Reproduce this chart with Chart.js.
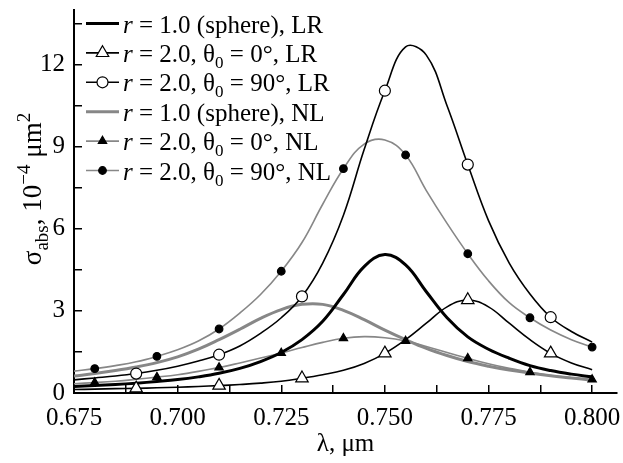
<!DOCTYPE html>
<html>
<head>
<meta charset="utf-8">
<script src="https://cdn.jsdelivr.net/npm/chart.js@4.4.1/dist/chart.umd.min.js"></script>
<style>
    html, body { margin: 0; padding: 0; background: #fff; }
    #wrap { width: 623px; height: 463px; position: relative; }
</style>
</head>
<body>
<div id="wrap"><canvas id="sigma_abs"></canvas></div>
<script>
// wavelength grid, um
const lambda = [0.675, 0.680, 0.685, 0.690, 0.695, 0.700, 0.705, 0.710, 0.715, 0.720,
                0.725, 0.730, 0.735, 0.740, 0.745, 0.750, 0.755, 0.760, 0.765, 0.770,
                0.775, 0.780, 0.785, 0.790, 0.795, 0.800];

// sigma_abs, 1e-4 um^2
const sphereLR = [0.24, 0.27, 0.31, 0.36, 0.42, 0.49, 0.59, 0.72, 0.90, 1.15,
                  1.48, 1.95, 2.62, 3.60, 4.62, 5.06, 4.68, 3.70, 2.75, 2.05,
                  1.60, 1.27, 1.00, 0.82, 0.69, 0.59];
const theta0LR = [0.13, 0.14, 0.16, 0.17, 0.19, 0.21, 0.24, 0.27, 0.31, 0.36,
                  0.43, 0.54, 0.67, 0.83, 1.08, 1.45, 1.95, 2.55, 3.15, 3.40,
                  3.15, 2.55, 1.95, 1.45, 1.10, 0.85];
const theta90LR = [0.48, 0.55, 0.62, 0.71, 0.83, 0.98, 1.17, 1.40, 1.72, 2.18,
                   2.75, 3.53, 4.75, 6.50, 8.90, 11.05, 12.65, 12.35, 10.50, 8.35,
                   6.30, 4.75, 3.62, 2.77, 2.25, 1.86];
const sphereNL = [0.62, 0.71, 0.82, 0.95, 1.11, 1.32, 1.60, 1.95, 2.33, 2.73,
                  3.05, 3.24, 3.24, 3.02, 2.68, 2.30, 1.95, 1.63, 1.37, 1.15,
                  0.98, 0.84, 0.73, 0.63, 0.55, 0.47];
const theta0NL = [0.34, 0.38, 0.43, 0.50, 0.58, 0.67, 0.79, 0.93, 1.10, 1.28,
                  1.46, 1.66, 1.85, 2.00, 2.06, 2.02, 1.90, 1.70, 1.48, 1.27,
                  1.07, 0.90, 0.76, 0.64, 0.56, 0.49];
const theta90NL = [0.80, 0.89, 1.00, 1.14, 1.34, 1.58, 1.90, 2.34, 2.92, 3.60,
                   4.45, 5.50, 6.90, 8.20, 9.10, 9.25, 8.70, 7.40, 6.20, 5.09,
                   4.10, 3.30, 2.75, 2.30, 1.95, 1.68];

// where symbols sit on the curves
const markLR = [0.690, 0.710, 0.730, 0.750, 0.770, 0.790];
const markNL = [0.680, 0.695, 0.710, 0.725, 0.740, 0.755, 0.770, 0.785, 0.800];

const xTicks = [0.675, 0.6875, 0.700, 0.7125, 0.725, 0.7375, 0.750, 0.7625, 0.775, 0.7875, 0.800];
const xLabels = [0.675, 0.700, 0.725, 0.750, 0.775, 0.800];
const yTicks = [0, 1.5, 3, 4.5, 6, 7.5, 9, 10.5, 12, 13.5];
const yLabels = [0, 3, 6, 9, 12];

const legendText = [
    { r: '1.0', theta: null, tag: 'LR' },
    { r: '2.0', theta: '0°', tag: 'LR' },
    { r: '2.0', theta: '90°', tag: 'LR' },
    { r: '1.0', theta: null, tag: 'NL' },
    { r: '2.0', theta: '0°', tag: 'NL' },
    { r: '2.0', theta: '90°', tag: 'NL' },
];

const GRAY = '#878787';
const SERIF = '"Liberation Serif", "Times New Roman", serif';

const near = (a, list) => list.some(v => Math.abs(v - a) < 1e-6);

function makeSet(values, marks, color, width, style, radius, fill) {
    return {
        data: lambda.map((x, i) => ({ x: x, y: values[i] })),
        borderColor: color,
        borderWidth: width,
        tension: 0.4,
        fill: false,
        pointStyle: style,
        pointRadius: ctx => (marks && near(lambda[ctx.dataIndex], marks)) ? radius : 0,
        pointHoverRadius: 0,
        pointBackgroundColor: fill,
        pointBorderColor: '#000',
        pointBorderWidth: 1.2,
        _marks: marks, _radius: radius,
    };
}

const datasets = [
    makeSet(theta90LR, markLR, '#000', 1.6, 'circle', 5.5, '#fff'),
    makeSet(theta0LR, markLR, '#000', 1.6, 'triangle', 7.2, '#fff'),
    makeSet(sphereLR, null, '#000', 3, 'circle', 0, '#000'),
    makeSet(theta90NL, markNL, GRAY, 1.6, 'circle', 3.8, '#000'),
    makeSet(theta0NL, markNL, GRAY, 1.6, 'triangle', 4.8, '#000'),
    makeSet(sphereNL, null, GRAY, 3, 'circle', 0, '#000'),
];
// legend order: LR sphere, LR 0, LR 90, NL sphere, NL 0, NL 90
const legendOrder = [2, 1, 0, 5, 4, 3];

function drawParts(ctx, parts, x, y) {
    parts.forEach(p => {
        ctx.font = p.font;
        ctx.fillText(p.t, x, y + (p.dy || 0));
        x += ctx.measureText(p.t).width;
    });
    return x;
}

function measureParts(ctx, parts) {
    let w = 0;
    parts.forEach(p => { ctx.font = p.font; w += ctx.measureText(p.t).width; });
    return w;
}

const textPlugin = {
    id: 'textPlugin',
    afterDraw(chart) {
        const ctx = chart.ctx;
        const big = '25px ' + SERIF, ital = 'italic 25px ' + SERIF, small = '17px ' + SERIF;
        ctx.save();
        ctx.fillStyle = '#000';
        ctx.textBaseline = 'alphabetic';
        ctx.textAlign = 'left';

        // legend
        legendText.forEach((item, k) => {
            const ds = chart.data.datasets[legendOrder[k]];
            const y = 23.5 + k * 29.4;
            ctx.strokeStyle = ds.borderColor;
            ctx.lineWidth = ds.borderWidth;
            ctx.beginPath();
            ctx.moveTo(86, y);
            ctx.lineTo(119, y);
            ctx.stroke();
            if (ds._marks) {
                ctx.fillStyle = ds.pointBackgroundColor;
                ctx.strokeStyle = '#000';
                ctx.lineWidth = 1.2;
                Chart.helpers.drawPoint(ctx, { pointStyle: ds.pointStyle, radius: ds._radius, borderWidth: 1.2, rotation: 0 }, 102.5, y);
                ctx.fillStyle = '#000';
            }
            let parts = [{ t: 'r', font: ital }];
            if (item.theta) {
                parts.push({ t: ' = ' + item.r + ', θ', font: big });
                parts.push({ t: '0', font: small, dy: 6 });
                parts.push({ t: ' = ' + item.theta + ', ' + item.tag, font: big });
            } else {
                parts.push({ t: ' = ' + item.r + ' (sphere), ' + item.tag, font: big });
            }
            drawParts(ctx, parts, 123, y + 9);
        });

        // y axis title
        const tbig = '27px ' + SERIF, tsmall = '19px ' + SERIF;
        const tparts = [
            { t: 'σ', font: tbig },
            { t: 'abs', font: tsmall, dy: 7 },
            { t: ', 10', font: tbig },
            { t: '−4', font: tsmall, dy: -11 },
            { t: ' μm', font: tbig },
            { t: '2', font: tsmall, dy: -11 },
        ];
        const w = measureParts(ctx, tparts);
        ctx.translate(41, 189);
        ctx.rotate(-Math.PI / 2);
        drawParts(ctx, tparts, -w / 2, 0);
        ctx.restore();
    }
};

const sigma_chart = {
    type: 'line',
    data: { datasets: datasets },
    options: {
        responsive: true,
        maintainAspectRatio: false,
        animation: false,
        events: [],
        layout: { padding: { top: 10, right: 3, left: 0, bottom: 0 } },
        plugins: { legend: { display: false }, tooltip: { enabled: false } },
        scales: {
            x: {
                type: 'linear',
                min: 0.675,
                max: 0.806,
                afterBuildTicks: scale => { scale.ticks = xTicks.map(v => ({ value: v })); },
                afterFit: scale => {
                    scale.height = 70;
                    scale.paddingLeft = 0;
                    scale.paddingRight = 0;
                },
                border: { display: true, color: '#000', width: 2 },
                grid: { drawOnChartArea: false, drawTicks: true, tickLength: -8, color: '#000', lineWidth: 1.5 },
                ticks: {
                    autoSkip: false,
                    maxRotation: 0,
                    padding: 18,
                    color: '#000',
                    font: { family: SERIF, size: 25 },
                    callback: v => near(v, xLabels) ? v.toFixed(3) : '',
                },
                title: {
                    display: true,
                    text: 'λ, μm',
                    color: '#000',
                    font: { family: SERIF, size: 25 },
                    padding: { top: 0, bottom: 4 },
                },
            },
            y: {
                min: 0,
                max: 14,
                afterBuildTicks: scale => { scale.ticks = yTicks.map(v => ({ value: v })); },
                afterFit: scale => {
                    scale.width = 74;
                    scale.paddingTop = 0;
                    scale.paddingBottom = 0;
                },
                border: { display: true, color: '#000', width: 2 },
                grid: { drawOnChartArea: false, drawTicks: true, tickLength: -8, color: '#000', lineWidth: 1.5 },
                ticks: {
                    padding: 17,
                    color: '#000',
                    font: { family: SERIF, size: 25 },
                    callback: v => near(v, yLabels) ? String(v) : '',
                },
            },
        },
    },
    plugins: [textPlugin],
};

function createChart() {
    const canvas = document.getElementById('sigma_abs').getContext('2d');
    window.chart = new Chart(canvas, sigma_chart);
    return window.chart;
}

createChart();
</script>
</body>
</html>
